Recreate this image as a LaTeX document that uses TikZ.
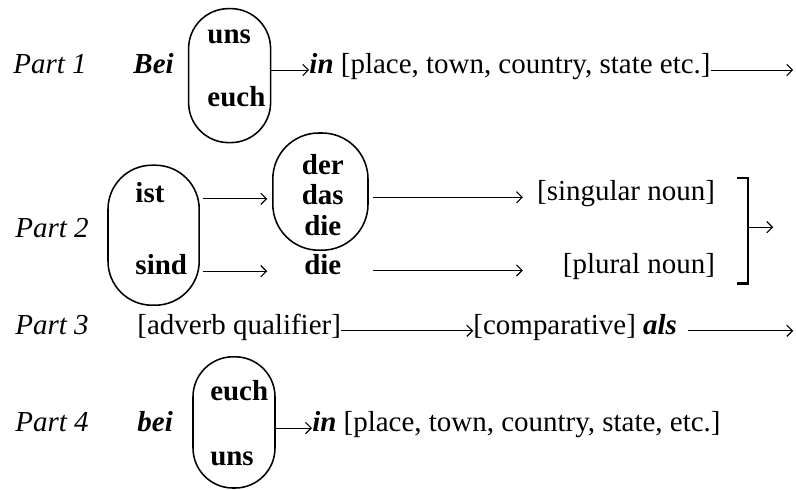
\documentclass[tikz,border=0pt]{standalone}
\usepackage{fontspec}
\setmainfont{Liberation Serif}
\usepackage{tikz}
\usetikzlibrary{arrows.meta}
\newcommand\diagfont{\fontsize{20.6pt}{21.7pt}\selectfont}

\begin{document}
\begin{tikzpicture}[
  txt/.style={inner sep=0pt, text height=0.7em, text depth=0.2em, font=\diagfont},
  lbl/.style={txt, anchor=west, font=\diagfont\itshape},
  word/.style={txt, anchor=west, font=\diagfont\bfseries},
  pill/.style={
    draw, rectangle, rounded corners=1cm, line width=1.1pt,
    minimum width=2.05cm, minimum height=3.35cm, inner sep=0pt
  },
  arr/.style={-{Straight Barb[length=4pt,width=8pt,line width=0.8pt]}, line width=0.7pt},
  gap/.style={shorten <=0.08cm, shorten >=0.12cm},
  brk/.style={line width=2pt}
]
\useasboundingbox (0,0) rectangle (19.9,-12.225);

% Part 1
\node[lbl] (part1) at (0.33,-1.75) {Part 1};
\node[word] (bei1) at (3.33,-1.75) {\textit{Bei}};
\node[pill] (pill1) at (5.74,-1.89) {};
\node[word] (uns1) at (5.18,-1.0) {uns};
\node[word] (euch1) at (5.18,-2.58) {euch};
\node[txt, anchor=west] (place1) at (7.73,-1.75)
  {\textbf{\textit{in}} [place, town, country, state etc.]};
\coordinate (end1) at (19.83,-1.75);

\draw[arr] (pill1.east |- place1.west) -- (place1.west);
\draw[arr] (place1.east) -- (end1);

% Part 2
\node[lbl] (part2) at (0.38,-5.85) {Part 2};
\node[pill, minimum width=2.28cm, minimum height=3.5cm, rounded corners=1.1cm]
  (pill2) at (3.84,-5.88) {};
\node[word] (ist) at (3.38,-4.97) {ist};
\node[word] (sind) at (3.38,-6.78) {sind};
\node[pill, minimum width=2.38cm, minimum height=2.93cm, rounded corners=1.15cm]
  (pill3) at (8.01,-4.79) {};
\node[inner sep=0pt, align=center, font=\diagfont\bfseries]
  (arts) at (8.07,-4.87) {der\\das\\die};
\node[txt, font=\diagfont\bfseries] (die2) at (8.07,-6.78) {die};
\node[txt, anchor=east] (sing) at (17.88,-4.93) {[singular noun]};
\node[txt, anchor=east] (plur) at (17.88,-6.76) {[plural noun]};

\draw[arr, gap] (pill2.east |- ist) -- (pill3.west |- ist);
\draw[arr, gap] (pill2.east |- sind) -- (pill3.west |- sind);
\draw[arr, shorten <=0.1cm, shorten >=0.35cm] (pill3.east |- sing) -- (sing.west);
\draw[arr, shorten <=0.1cm, shorten >=0.35cm] (pill3.east |- plur) -- (sing.west |- plur);

% closing bracket
\coordinate (brtop) at (18.7,-4.45);
\coordinate (brbot) at (18.7,-7.08);
\coordinate (end2) at (19.33,-5.68);
\draw[brk] ([xshift=-0.28cm]brtop) -- (brtop) -- (brbot) -- ([xshift=-0.28cm]brbot);
\draw[arr] (brtop |- end2) -- (end2);

% Part 3
\node[lbl] (part3) at (0.38,-8.27) {Part 3};
\node[txt, anchor=west] (adv) at (3.43,-8.27) {[adverb qualifier]};
\node[txt, anchor=west] (comp) at (11.83,-8.27) {[comparative] \textbf{\textit{als}}};
\coordinate (end3) at (19.83,-8.27);

\draw[arr] (adv) -- (comp);
\draw[arr, shorten <=0.27cm] (comp) -- (end3);

% Part 4
\node[lbl] (part4) at (0.38,-10.7) {Part 4};
\node[word] (bei4) at (3.43,-10.7) {\textit{bei}};
\node[pill, minimum height=3.28cm] (pill4) at (5.85,-10.56) {};
\node[word] (euch4) at (5.25,-9.93) {euch};
\node[word] (uns4) at (5.25,-11.55) {uns};
\node[txt, anchor=west] (place4) at (7.8,-10.7)
  {\textbf{\textit{in}} [place, town, country, state, etc.]};

\draw[arr] (pill4.east |- place4.west) -- (place4.west);

\end{tikzpicture}
\end{document}
